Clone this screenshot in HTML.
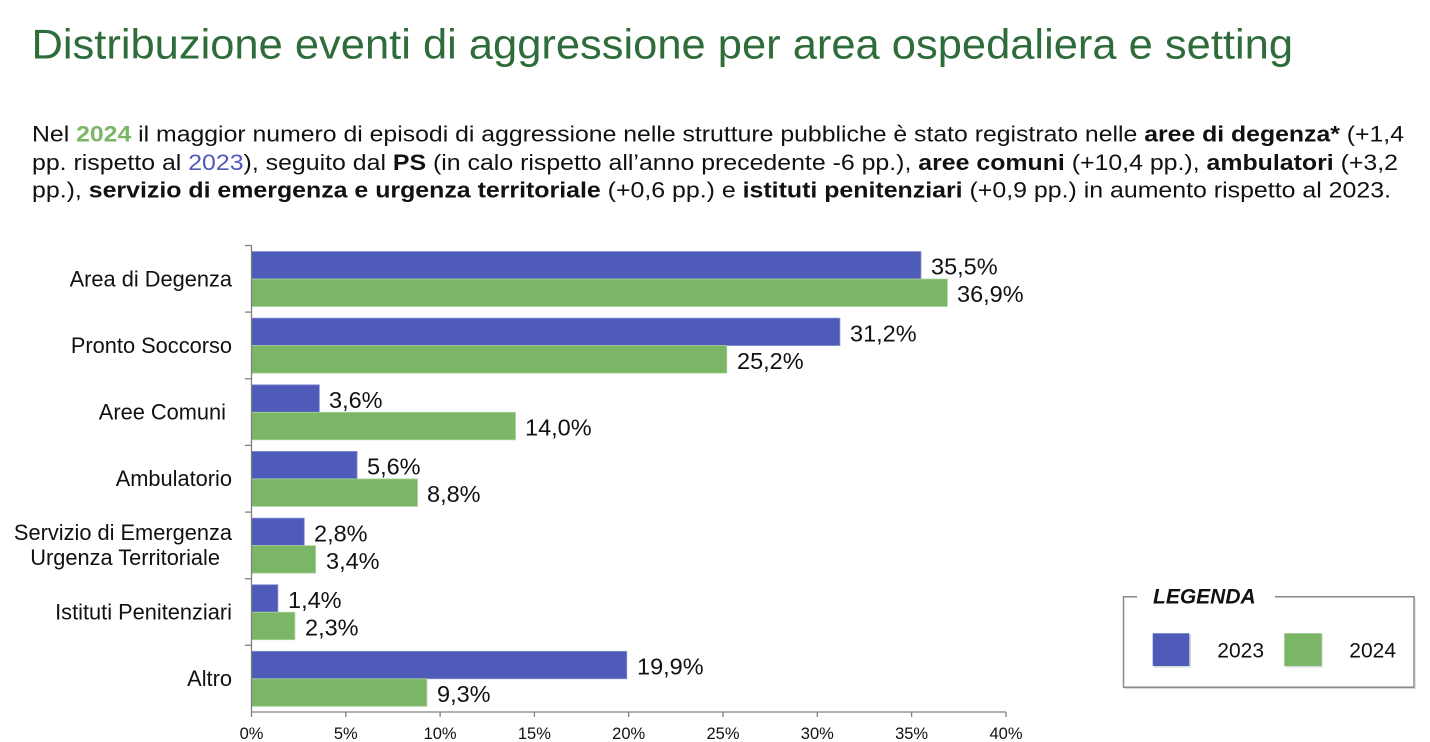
<!DOCTYPE html>
<html>
<head>
<meta charset="utf-8">
<style>
  html,body{margin:0;padding:0;background:#fff;}
  body{width:1430px;height:742px;overflow:hidden;}
  svg{display:block;}
  text{font-family:"Liberation Sans", Arial, sans-serif;}
</style>
</head>
<body>
<svg width="1430" height="742" viewBox="0 0 1430 742" xmlns="http://www.w3.org/2000/svg">
  <rect width="1430" height="742" fill="#ffffff"/>

  <!-- Title -->
  <text x="31.5" y="58.5" font-size="41.5" fill="#2E6C3B" textLength="1261.5" lengthAdjust="spacingAndGlyphs">Distribuzione eventi di aggressione per area ospedaliera e setting</text>

  <!-- Paragraph -->
  <g font-size="22" fill="#111">
    <text x="32" y="141.5" textLength="1372" lengthAdjust="spacingAndGlyphs">Nel <tspan font-weight="bold" fill="#7AB665">2024</tspan> il maggior numero di episodi di aggressione nelle strutture pubbliche è stato registrato nelle <tspan font-weight="bold">aree di degenza*</tspan> (+1,4</text>
    <text x="32" y="169.8" textLength="1366" lengthAdjust="spacingAndGlyphs">pp. rispetto al <tspan fill="#5058BB">2023</tspan>), seguito dal <tspan font-weight="bold">PS</tspan> (in calo rispetto all’anno precedente -6 pp.), <tspan font-weight="bold">aree comuni</tspan> (+10,4 pp.), <tspan font-weight="bold">ambulatori</tspan> (+3,2</text>
    <text x="32" y="197.5" textLength="1359" lengthAdjust="spacingAndGlyphs">pp.), <tspan font-weight="bold">servizio di emergenza e urgenza territoriale</tspan> (+0,6 pp.) e <tspan font-weight="bold">istituti penitenziari</tspan> (+0,9 pp.) in aumento rispetto al 2023.</text>
  </g>

  <!-- Bars 2023 (blue) -->
  <g fill="#4F5BB8" stroke="#8C93D6" stroke-width="0.8">
    <rect x="251.5" y="251.5" width="669.5" height="27.5"/>
    <rect x="251.5" y="318.1" width="588.4" height="27.5"/>
    <rect x="251.5" y="384.8" width="67.9" height="27.5"/>
    <rect x="251.5" y="451.4" width="105.6" height="27.5"/>
    <rect x="251.5" y="518.1" width="52.8" height="27.5"/>
    <rect x="251.5" y="584.7" width="26.4" height="27.5"/>
    <rect x="251.5" y="651.3" width="375.3" height="27.5"/>
  </g>
  <!-- Bars 2024 (green) -->
  <g fill="#7BB667" stroke="#A9D49B" stroke-width="0.8">
    <rect x="251.5" y="279.0" width="695.9" height="27.5"/>
    <rect x="251.5" y="345.6" width="475.3" height="27.5"/>
    <rect x="251.5" y="412.3" width="264.0" height="27.5"/>
    <rect x="251.5" y="478.9" width="166.0" height="27.5"/>
    <rect x="251.5" y="545.6" width="64.1" height="27.5"/>
    <rect x="251.5" y="612.2" width="43.4" height="27.5"/>
    <rect x="251.5" y="678.8" width="175.4" height="27.5"/>
  </g>

  <!-- Axes -->
  <g stroke="#808080" stroke-width="1.3" fill="none">
    <line x1="251.5" y1="245.5" x2="251.5" y2="712"/>
    <line x1="251.5" y1="712" x2="1006" y2="712"/>
    <line x1="245" y1="245.5" x2="251.5" y2="245.5"/>
    <line x1="245" y1="312.1" x2="251.5" y2="312.1"/>
    <line x1="245" y1="378.8" x2="251.5" y2="378.8"/>
    <line x1="245" y1="445.4" x2="251.5" y2="445.4"/>
    <line x1="245" y1="512.1" x2="251.5" y2="512.1"/>
    <line x1="245" y1="578.7" x2="251.5" y2="578.7"/>
    <line x1="245" y1="645.3" x2="251.5" y2="645.3"/>
    <line x1="251.5" y1="712" x2="251.5" y2="717"/>
    <line x1="345.8" y1="712" x2="345.8" y2="717"/>
    <line x1="440.1" y1="712" x2="440.1" y2="717"/>
    <line x1="534.4" y1="712" x2="534.4" y2="717"/>
    <line x1="628.7" y1="712" x2="628.7" y2="717"/>
    <line x1="723.0" y1="712" x2="723.0" y2="717"/>
    <line x1="817.3" y1="712" x2="817.3" y2="717"/>
    <line x1="911.6" y1="712" x2="911.6" y2="717"/>
    <line x1="1006" y1="712" x2="1006" y2="717"/>
  </g>

  <!-- X tick labels -->
  <g font-size="16.5" fill="#111" text-anchor="middle">
    <text x="251.5" y="739">0%</text>
    <text x="345.8" y="739">5%</text>
    <text x="440.1" y="739">10%</text>
    <text x="534.4" y="739">15%</text>
    <text x="628.7" y="739">20%</text>
    <text x="723.0" y="739">25%</text>
    <text x="817.3" y="739">30%</text>
    <text x="911.6" y="739">35%</text>
    <text x="1006" y="739">40%</text>
  </g>

  <!-- Category labels -->
  <g font-size="21.8" fill="#111" text-anchor="end">
    <text x="232" y="286.3">Area di Degenza</text>
    <text x="232" y="352.9">Pronto Soccorso</text>
    <text x="226" y="419.6">Aree Comuni</text>
    <text x="232" y="486.2">Ambulatorio</text>
    <text x="232" y="540">Servizio di Emergenza</text>
    <text x="220" y="565">Urgenza Territoriale</text>
    <text x="232" y="619.5">Istituti Penitenziari</text>
    <text x="232" y="686.1">Altro</text>
  </g>

  <!-- Data labels -->
  <g font-size="23.5" fill="#111">
    <text x="931" y="274.7">35,5%</text>
    <text x="957" y="302.2">36,9%</text>
    <text x="850" y="341.3">31,2%</text>
    <text x="737" y="368.8">25,2%</text>
    <text x="329" y="408.0">3,6%</text>
    <text x="525" y="435.5">14,0%</text>
    <text x="367" y="474.6">5,6%</text>
    <text x="427" y="502.1">8,8%</text>
    <text x="314" y="541.3">2,8%</text>
    <text x="326" y="568.8">3,4%</text>
    <text x="288" y="607.9">1,4%</text>
    <text x="305" y="635.4">2,3%</text>
    <text x="637" y="674.5">19,9%</text>
    <text x="437" y="702.0">9,3%</text>
  </g>

  <!-- Legend -->
  <path d="M1137 596.8 H1123.5 V687.3 H1414 V596.8 H1275" fill="none" stroke="#8A8A8A" stroke-width="1.5"/>
  <path d="M1124.5 688.6 H1415.2 V598" fill="none" stroke="#d6d6d6" stroke-width="1"/>
  <text x="1153" y="603.3" font-size="21" font-weight="bold" font-style="italic" fill="#111">LEGENDA</text>
  <rect x="1154" y="634.5" width="37" height="33" fill="#d9d9d9"/>
  <rect x="1152.7" y="633.3" width="36.6" height="32.7" fill="#4F5BB8"/>
  <text x="1217.3" y="657.3" font-size="21" fill="#111">2023</text>
  <rect x="1285.6" y="634.5" width="37" height="33" fill="#d9d9d9"/>
  <rect x="1284.3" y="633.3" width="37.4" height="32.7" fill="#7BB667"/>
  <text x="1349.3" y="657.3" font-size="21" fill="#111">2024</text>
</svg>
</body>
</html>
